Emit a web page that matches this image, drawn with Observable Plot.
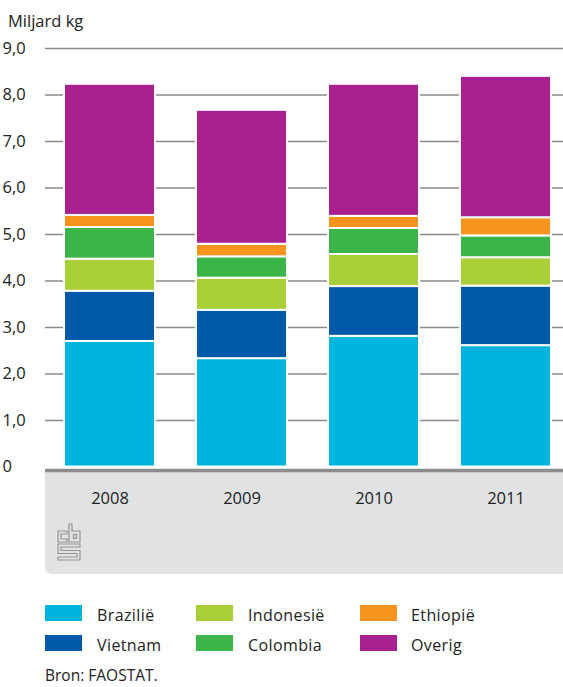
<!DOCTYPE html>
<html>
<head>
<meta charset="utf-8">
<script src="https://cdn.jsdelivr.net/npm/d3@7"></script>
<script src="https://cdn.jsdelivr.net/npm/@observablehq/plot@0.6"></script>
<style>
  html, body { margin: 0; padding: 0; background: #fff; }
  body { width: 563px; height: 687px; position: relative; overflow: hidden; font-family: "Open Sans", "Noto Sans", sans-serif; color: #222; }
  #title { position: absolute; left: 8px; top: 9px; font-size: 16.5px; }
  #panel { position: absolute; left: 45px; top: 469px; width: 518px; height: 105px; background: #e1e2e4; border-bottom-left-radius: 7px; }
  #chart { position: absolute; left: 0; top: 0; }
  #logo { position: absolute; left: 57px; top: 523px; }
  .leg { position: absolute; font-size: 16px; letter-spacing: 0.4px; }
  .sw { position: absolute; width: 37px; height: 16px; }
  #source { position: absolute; left: 45px; top: 668px; font-size: 15.5px; line-height: 14px; }
</style>
</head>
<body>
<div id="panel"></div>
<div id="chart"></div>
<div id="title">Miljard kg</div>
<svg id="logo" width="25" height="39" viewBox="0 0 25 39" fill="none" stroke="#929395" stroke-width="1.2">
  <path d="M1 8 H10 V11 H4 V16 H10 V19 H1 Z"/>
  <path d="M12 1 H15 V8 H23 V19 H12 Z"/>
  <rect x="16.5" y="11.5" width="3" height="4"/>
  <path d="M1 21 H23 V24 H4 V27.5 H23 V37 H1 V34 H20 V30.5 H1 Z"/>
</svg>
<div id="legend"></div>
<div id="source">Bron: FAOSTAT.</div>
<script>
const years = ["2008", "2009", "2010", "2011"];
const series = ["Brazilië", "Vietnam", "Indonesië", "Colombia", "Ethiopië", "Overig"];
const colors = ["#00b5dd", "#0058a8", "#a8cf38", "#3bb54a", "#f7941d", "#a9218e"];
const brazilie = [2.70, 2.33, 2.81, 2.61];
const vietnam = [1.08, 1.04, 1.07, 1.28];
const indonesie = [0.69, 0.69, 0.69, 0.61];
const colombia = [0.68, 0.46, 0.56, 0.47];
const ethiopie = [0.26, 0.27, 0.26, 0.39];
const overig = [2.82, 2.88, 2.84, 3.04];
const yTicks = [0, 1, 2, 3, 4, 5, 6, 7, 8, 9];

const valuesBySeries = [brazilie, vietnam, indonesie, colombia, ethiopie, overig];
const data = [];
series.forEach((s, i) => years.forEach((y, j) => data.push({year: y, series: s, value: valuesBySeries[i][j]})));

const fmt = d => d === 0 ? "0" : d.toFixed(1).replace(".", ",");

const chart = Plot.plot({
  width: 563,
  height: 580,
  marginLeft: 45,
  marginRight: 0,
  marginTop: 48,
  marginBottom: 113.5,
  style: {fontFamily: "'Open Sans', 'Noto Sans', sans-serif", fontSize: "16.5px", color: "#222", background: "transparent"},
  x: {domain: years, range: [45, 571], paddingInner: 0.31, paddingOuter: 0.144, label: null},
  y: {domain: [0, 9], label: null},
  color: {domain: series, range: colors},
  marks: [
    Plot.gridY(yTicks.filter(d => d > 0), {stroke: "#8a8a8a", strokeOpacity: 1, strokeWidth: 1.4}),
    Plot.barY(data, {x: "year", y: "value", fill: "series", order: series, stroke: "white", strokeWidth: 2}),
    Plot.ruleY([0], {stroke: "#8c8c8c", strokeWidth: 3.5, dy: 3.5}),
    Plot.axisY(yTicks, {tickSize: 0, tickFormat: fmt, textAnchor: "start", dx: -34, fontSize: 16.5, fill: "#222", label: null}),
    Plot.axisX({tickSize: 0, tickPadding: 25, fontSize: 16.5, fill: "#222", label: null})
  ]
});
document.getElementById("chart").appendChild(chart);

// Legend
const legend = document.getElementById("legend");
const colX = [45, 196, 360];
const textX = [97, 248, 411];
const rowY = [605, 635];
const textTop = [603.5, 633.5];
series.forEach((s, i) => {
  const c = Math.floor(i / 2), r = i % 2;
  const sw = document.createElement("div");
  sw.className = "sw";
  sw.style.left = colX[c] + "px";
  sw.style.top = rowY[r] + "px";
  sw.style.background = colors[i];
  legend.appendChild(sw);
  const t = document.createElement("div");
  t.className = "leg";
  t.style.left = textX[c] + "px";
  t.style.top = textTop[r] + "px";
  t.textContent = s;
  legend.appendChild(t);
});
</script>
</body>
</html>
